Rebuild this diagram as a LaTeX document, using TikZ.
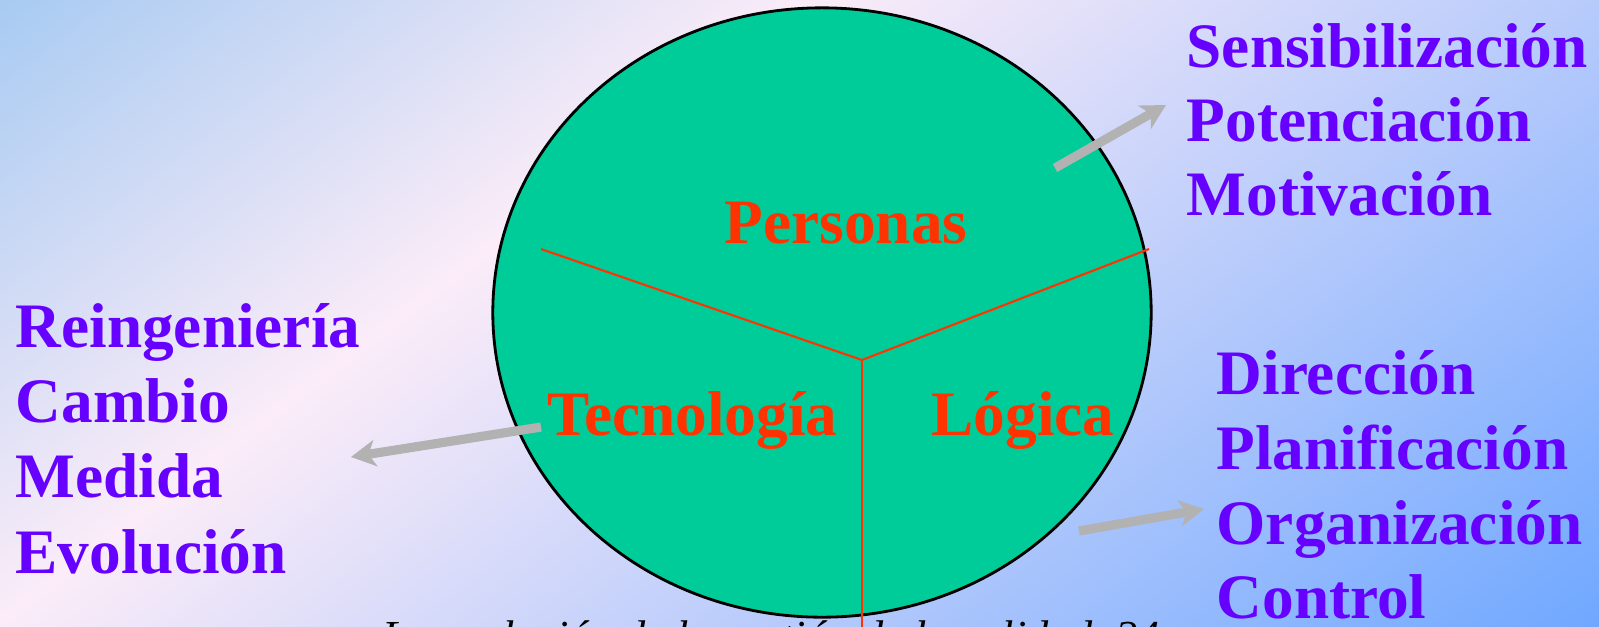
\documentclass[tikz,border=0pt]{standalone}
\usepackage{fontspec}
\setmainfont{Liberation Serif}
\usetikzlibrary{arrows.meta,shapes.geometric}
\definecolor{bgA}{HTML}{A8CBF2}
\definecolor{bgP}{HTML}{FBECF8}
\definecolor{bgB}{HTML}{70A8FF}
\definecolor{ellgreen}{HTML}{00CC99}
\definecolor{txtpurple}{HTML}{6600FF}
\definecolor{txtred}{HTML}{FF3300}
\definecolor{arrowgrey}{HTML}{B2B2B2}
\pgfdeclarehorizontalshading{bgshade}{100bp}{color(0bp)=(bgA); color(28.7bp)=(bgA); color(43bp)=(bgP); color(71.3bp)=(bgB); color(100bp)=(bgB)}
\begin{document}
\begin{tikzpicture}[x=0.01cm,y=-0.01cm,
  lbl/.style={inner sep=0pt, anchor=base west, text=txtpurple, font=\fontsize{18}{21}\selectfont\bfseries},
  seg/.style={inner sep=0pt, anchor=base west, text=txtred, font=\fontsize{18}{21}\selectfont\bfseries},
  divider/.style={draw=txtred, line width=0.6pt},
  greyarrow/.style={draw=arrowgrey, line width=2.6pt, -{Stealth[length=7pt,width=7.5pt,inset=2pt]}},
  footer/.style={inner sep=0pt, anchor=base west, text=black, font=\fontsize{12.6}{15}\selectfont\itshape}]
\useasboundingbox (0,0) rectangle (1599,626);
\clip (0,0) rectangle (1599,626);
\shade[shading=bgshade, shading angle=-52.6] (-60.5,-547) rectangle (1659.5,1173);

% ellipse
\node[ellipse, draw=black, line width=0.8pt, fill=ellgreen, inner sep=0pt,
      minimum width=6.58cm, minimum height=6.09cm] (circ) at (822,312.5) {};

% dividers
\coordinate (J) at (862,360);
\coordinate (L) at (541,249);
\coordinate (R) at (1149,249);
\coordinate (B) at (862,640);
\draw[divider] (L) -- (J) -- (R);
\draw[divider] (J) -- (B);

% segment labels
\node[seg] (pers) at (724,243) {Personas};
\node[seg] (tecn) at (547,435) {Tecnología};
\node[seg] (logi) at (931,435) {Lógica};

% arrows
\coordinate (a1s) at (1055,168);
\coordinate (a1e) at (1166,105);
\coordinate (a2s) at (541,427);
\coordinate (a2e) at (351,457);
\coordinate (a3s) at (1079,531);
\coordinate (a3e) at (1204,509);
\draw[greyarrow] (a1s) -- (a1e);
\draw[greyarrow] (a2s) -- (a2e);
\draw[greyarrow] (a3s) -- (a3e);

% right top list
\node[lbl] (sens) at (1186,67) {Sensibilización};
\node[lbl] (pote) at (1186,141) {Potenciación};
\node[lbl] (moti) at (1186,215) {Motivación};

% left list
\node[lbl] (rein) at (15,347) {Reingeniería};
\node[lbl] (camb) at (15,422) {Cambio};
\node[lbl] (medi) at (15,497) {Medida};
\node[lbl] (evol) at (15,573) {Evolución};

% right bottom list
\node[lbl] (dire) at (1216,394) {Dirección};
\node[lbl] (plan) at (1216,469) {Planificación};
\node[lbl] (orga) at (1216,544) {Organización};
\node[lbl] (cont) at (1216,618) {Control};

% footer (cut off at the bottom edge, as in the reference)
\node[footer] (foot) at (382,651) {La evolución de la gestión de la calidad\ \ 24};
\end{tikzpicture}
\end{document}
